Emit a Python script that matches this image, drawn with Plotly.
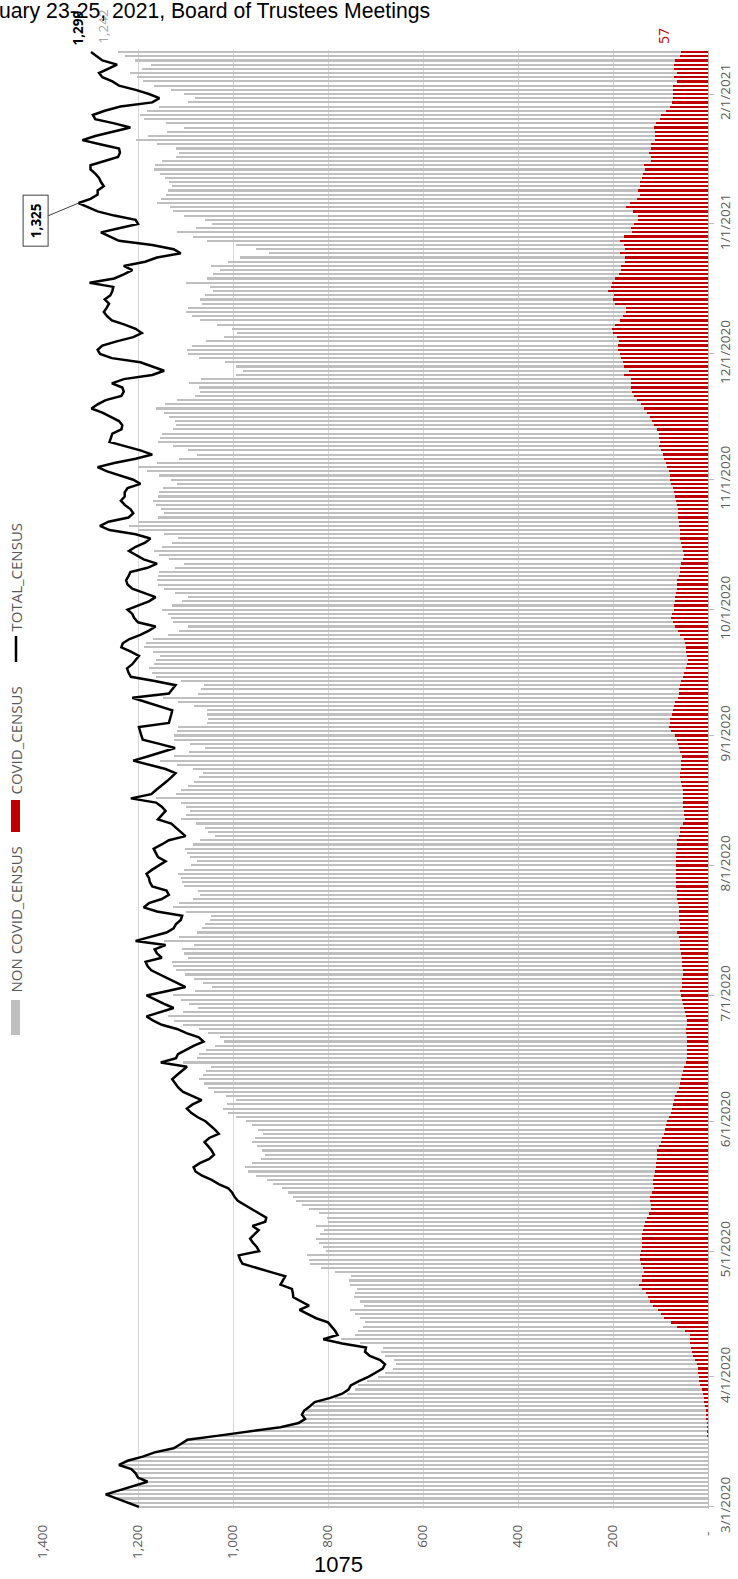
import plotly.graph_objects as go
import pandas as pd

START_DATE = "2020-03-01"

TOTAL_CENSUS = [
    1198, 1222, 1245, 1268, 1238, 1209, 1180, 1200, 1205, 1214,
    1240, 1222, 1190, 1165, 1125, 1110, 1096, 1030, 965, 900,
    862, 848, 855, 850, 838, 828, 795, 770, 757, 752,
    735, 715, 700, 685, 680, 690, 712, 722, 720, 770,
    810, 780, 785, 792, 800, 825, 843, 860, 840, 855,
    873, 874, 876, 900, 895, 890, 920, 950, 980, 985,
    988, 945, 950, 958, 964, 955, 946, 959, 932, 930,
    945, 960, 975, 990, 997, 1002, 1010, 1030, 1045, 1065,
    1079, 1083, 1070, 1050, 1040, 1045, 1052, 1060, 1050, 1030,
    1038, 1048, 1058, 1075, 1088, 1097, 1085, 1066, 1085, 1105,
    1115, 1122, 1128, 1118, 1108, 1097, 1152, 1120, 1116, 1100,
    1082, 1062, 1072, 1098, 1118, 1150, 1168, 1182, 1155, 1125,
    1145, 1165, 1182, 1140, 1100, 1118, 1137, 1155, 1172, 1180,
    1184, 1150, 1160, 1165, 1142, 1205, 1175, 1140, 1125, 1120,
    1110, 1107, 1160, 1188, 1177, 1150, 1135, 1140, 1170, 1175,
    1177, 1182, 1170, 1155, 1142, 1158, 1163, 1167, 1150, 1135,
    1100, 1110, 1118, 1130, 1158, 1150, 1142, 1150, 1162, 1215,
    1172, 1162, 1150, 1140, 1130, 1121, 1142, 1175, 1210, 1180,
    1150, 1122, 1155, 1190, 1193, 1196, 1198, 1135, 1132, 1130,
    1128, 1155, 1185, 1212, 1135, 1128, 1121, 1165, 1215, 1220,
    1223, 1212, 1205, 1198, 1215, 1235, 1232, 1218, 1195, 1177,
    1163, 1200, 1208, 1212, 1222, 1200, 1177, 1163, 1190, 1212,
    1222, 1225, 1220, 1216, 1180, 1160, 1188, 1205, 1219, 1205,
    1185, 1174, 1205, 1260, 1280, 1262, 1220, 1210, 1216, 1228,
    1236, 1228, 1228, 1222, 1195, 1210, 1237, 1265, 1285, 1250,
    1205, 1170, 1195, 1230, 1260, 1257, 1254, 1235, 1233, 1240,
    1258, 1275, 1298, 1285, 1268, 1235, 1230, 1233, 1255, 1230,
    1170, 1145, 1170, 1195, 1255, 1280, 1285, 1275, 1245, 1210,
    1192, 1205, 1228, 1255, 1265, 1272, 1266, 1261, 1270, 1258,
    1254, 1252, 1302, 1250, 1230, 1212, 1230, 1185, 1160, 1110,
    1125, 1170, 1240, 1260, 1278, 1240, 1200, 1205, 1250, 1285,
    1305, 1325, 1300, 1285, 1285, 1272, 1278, 1282, 1290, 1300,
    1300, 1270, 1242, 1238, 1240, 1280, 1317, 1290, 1250, 1216,
    1250, 1290, 1295, 1270, 1237, 1170, 1155, 1177, 1205, 1240,
    1254, 1275, 1282, 1262, 1244, 1275, 1288, 1299,
]

COVID_CENSUS = [
    0, 0, 0, 0, 0, 0, 0, 0, 0, 0,
    0, 0, 0, 0, 0, 0, 0, 1, 1, 2,
    2, 3, 4, 4, 6, 8, 9, 11, 13, 16,
    18, 20, 21, 22, 24, 28, 31, 34, 36, 38,
    38, 37, 48, 66, 78, 92, 100, 106, 116, 122,
    127, 130, 138, 146, 140, 138, 135, 136, 142, 144,
    143, 141, 139, 139, 138, 139, 137, 134, 132, 128,
    125, 121, 121, 122, 123, 118, 114, 115, 116, 113,
    111, 109, 109, 108, 108, 107, 103, 100, 97, 93,
    90, 88, 86, 82, 78, 76, 73, 72, 70, 66,
    62, 60, 57, 55, 52, 50, 47, 45, 44, 44,
    44, 44, 45, 46, 46, 45, 44, 46, 49, 51,
    53, 55, 56, 60, 55, 54, 54, 53, 53, 54,
    55, 55, 57, 58, 59, 60, 62, 65, 60, 60,
    61, 61, 62, 62, 63, 65, 66, 66, 67, 67,
    67, 67, 67, 67, 67, 67, 67, 66, 65, 65,
    62, 58, 58, 52, 48, 50, 51, 52, 53, 53,
    53, 53, 55, 57, 58, 58, 57, 57, 56, 55,
    58, 62, 64, 66, 69, 78, 83, 80, 79, 76,
    74, 72, 69, 64, 62, 61, 60, 56, 53, 50,
    47, 45, 42, 44, 46, 47, 48, 50, 58, 64,
    69, 74, 78, 75, 72, 71, 70, 69, 67, 66,
    65, 65, 62, 60, 58, 56, 53, 50, 52, 55,
    57, 58, 59, 60, 61, 62, 63, 64, 64, 65,
    67, 70, 72, 74, 77, 79, 81, 83, 86, 89,
    92, 95, 100, 103, 102, 103, 104, 108, 113, 118,
    123, 129, 135, 142, 150, 155, 160, 162, 162, 163,
    177, 167, 176, 179, 183, 186, 189, 189, 188, 191,
    200, 202, 195, 186, 179, 172, 172, 195, 200, 198,
    211, 204, 202, 195, 188, 184, 183, 175, 174, 186,
    174, 177, 186, 176, 160, 163, 156, 147, 147, 158,
    172, 165, 149, 144, 148, 144, 144, 139, 137, 133,
    135, 121, 121, 125, 121, 119, 112, 111, 111, 113,
    109, 102, 100, 89, 81, 76, 74, 74, 74, 74,
    65, 72, 65, 71, 71, 69, 60, 57,
]

NON_COVID_CENSUS = [
    1198, 1222, 1245, 1268, 1238, 1209, 1180, 1200, 1205, 1214,
    1240, 1222, 1190, 1165, 1125, 1110, 1096, 1029, 964, 898,
    860, 845, 851, 846, 832, 820, 786, 759, 744, 736,
    717, 695, 679, 663, 656, 662, 681, 688, 684, 732,
    772, 743, 737, 726, 722, 733, 743, 754, 724, 733,
    746, 744, 738, 754, 755, 752, 785, 814, 838, 841,
    845, 804, 811, 819, 826, 816, 809, 825, 800, 802,
    820, 839, 854, 868, 874, 884, 896, 915, 929, 952,
    968, 974, 961, 942, 932, 938, 949, 960, 953, 937,
    948, 960, 972, 993, 1010, 1021, 1012, 994, 1015, 1039,
    1053, 1062, 1071, 1063, 1056, 1047, 1105, 1075, 1072, 1056,
    1038, 1018, 1027, 1052, 1072, 1105, 1124, 1136, 1106, 1074,
    1092, 1110, 1126, 1080, 1045, 1064, 1083, 1102, 1119, 1126,
    1129, 1095, 1103, 1107, 1083, 1145, 1113, 1075, 1065, 1060,
    1049, 1046, 1098, 1126, 1114, 1085, 1069, 1074, 1103, 1108,
    1110, 1115, 1103, 1088, 1075, 1091, 1096, 1101, 1085, 1070,
    1038, 1052, 1060, 1078, 1110, 1100, 1091, 1098, 1109, 1162,
    1119, 1109, 1095, 1083, 1072, 1063, 1085, 1118, 1154, 1125,
    1092, 1060, 1091, 1124, 1124, 1118, 1115, 1055, 1053, 1054,
    1054, 1083, 1116, 1148, 1073, 1067, 1061, 1109, 1162, 1170,
    1176, 1167, 1163, 1154, 1169, 1188, 1184, 1168, 1137, 1113,
    1094, 1126, 1130, 1137, 1150, 1129, 1107, 1094, 1123, 1146,
    1157, 1160, 1158, 1156, 1122, 1104, 1135, 1155, 1167, 1150,
    1128, 1116, 1146, 1200, 1219, 1200, 1157, 1146, 1152, 1163,
    1169, 1158, 1156, 1148, 1118, 1131, 1156, 1182, 1199, 1161,
    1113, 1075, 1095, 1127, 1158, 1154, 1150, 1127, 1120, 1122,
    1135, 1146, 1163, 1143, 1118, 1080, 1070, 1071, 1093, 1067,
    993, 978, 994, 1016, 1072, 1094, 1096, 1086, 1057, 1019,
    992, 1003, 1033, 1069, 1086, 1100, 1094, 1066, 1070, 1060,
    1043, 1048, 1100, 1055, 1042, 1028, 1047, 1010, 986, 924,
    951, 993, 1054, 1084, 1118, 1077, 1044, 1058, 1103, 1127,
    1133, 1160, 1151, 1141, 1137, 1128, 1134, 1143, 1153, 1167,
    1165, 1149, 1121, 1113, 1119, 1161, 1205, 1179, 1139, 1103,
    1141, 1188, 1195, 1181, 1156, 1094, 1081, 1103, 1131, 1166,
    1189, 1203, 1217, 1191, 1173, 1206, 1228, 1242,
]

SERIES_NAMES = ["NON COVID_CENSUS", "COVID_CENSUS", "TOTAL_CENSUS"]

MONTH_TICKS = ["2020-03-01", "2020-04-01", "2020-05-01", "2020-06-01",
               "2020-07-01", "2020-08-01", "2020-09-01", "2020-10-01",
               "2020-11-01", "2020-12-01", "2021-01-01", "2021-02-01"]
MONTH_LABELS = ["3/1/2020", "4/1/2020", "5/1/2020", "6/1/2020",
                "7/1/2020", "8/1/2020", "9/1/2020", "10/1/2020",
                "11/1/2020", "12/1/2020", "1/1/2021", "2/1/2021"]

VALUE_TICKS = [0, 200, 400, 600, 800, 1000, 1200, 1400]
VALUE_LABELS = ["-\u00a0\u00a0", "200", "400", "600", "800", "1,000", "1,200", "1,400"]

TITLE_TEXT = "uary 23-25, 2021, Board of Trustees Meetings"
FOOT_TEXT = "1075"
CALLOUT_DATE = "2021-01-06"

# ---------------------------------------------------------------
dates = pd.date_range(START_DATE, periods=len(TOTAL_CENSUS), freq="D")
DAY_MS = 86400000

W, H = 738, 1579
L, R, T, B = 43, 30, 50, 70


def px(x):
    return (x - L) / (W - L - R)


def py(y):
    return (H - B - y) / (H - T - B)


GRAY = "#BFBFBF"
RED = "#C00000"
TXT = "#595959"
FONT = "Open Sans"

fig = go.Figure()
fig.add_trace(go.Bar(
    x=NON_COVID_CENSUS, y=dates, orientation="h", name=SERIES_NAMES[0],
    marker=dict(color=GRAY, line=dict(width=0)), width=0.5 * DAY_MS,
))
fig.add_trace(go.Bar(
    x=COVID_CENSUS, y=dates, orientation="h", name=SERIES_NAMES[1],
    marker=dict(color=RED, line=dict(width=0)), width=0.52 * DAY_MS,
))
fig.add_trace(go.Scatter(
    x=TOTAL_CENSUS, y=dates, mode="lines", name=SERIES_NAMES[2],
    line=dict(color="#000000", width=2.5),
))

annotations = []
# data labels at the last date
last = dates[-1]
annotations.append(dict(
    x=TOTAL_CENSUS[-1], y=last, xref="x", yref="y", text="<b>%s</b>" % f"{TOTAL_CENSUS[-1]:,}",
    showarrow=False, textangle=-90, xshift=-13, yshift=24.5,
    font=dict(family=FONT, size=13.5, color="#000000"),
))
annotations.append(dict(
    x=NON_COVID_CENSUS[-1], y=last, xref="x", yref="y", text=f"{NON_COVID_CENSUS[-1]:,}",
    showarrow=False, textangle=-90, xshift=-15, yshift=25.5,
    font=dict(family=FONT, size=13.5, color="#A6A6A6"),
))
annotations.append(dict(
    x=COVID_CENSUS[-1], y=last, xref="x", yref="y", text=f"{COVID_CENSUS[-1]:,}",
    showarrow=False, textangle=-90, xshift=-18, yshift=16,
    font=dict(family=FONT, size=14, color=RED),
))

# callout on the peak
ci = list(dates).index(pd.Timestamp(CALLOUT_DATE))
annotations.append(dict(
    x=TOTAL_CENSUS[ci], y=dates[ci], xref="x", yref="y",
    text="<b>%s</b>" % f"{TOTAL_CENSUS[ci]:,}", textangle=-90,
    showarrow=True, arrowhead=0, arrowwidth=1, arrowcolor="#404040",
    ax=-43, ay=18, bordercolor="#404040", borderwidth=1, borderpad=0,
    bgcolor="#FFFFFF", width=50, height=24,
    font=dict(family=FONT, size=13.5, color="#000000"),
))

# legend (rotated)
shapes = [
    dict(type="rect", xref="paper", yref="paper", x0=px(11), x1=px(20),
         y0=py(1035), y1=py(1000), fillcolor=GRAY, line=dict(width=0)),
    dict(type="rect", xref="paper", yref="paper", x0=px(11), x1=px(20),
         y0=py(832), y1=py(800), fillcolor=RED, line=dict(width=0)),
    dict(type="line", xref="paper", yref="paper", x0=px(16), x1=px(16),
         y0=py(662), y1=py(636), line=dict(color="#000000", width=2.5)),
]
for name, yc in zip(SERIES_NAMES, [920, 741, 577]):
    annotations.append(dict(
        x=px(15.5), y=py(yc), xref="paper", yref="paper", text=name,
        showarrow=False, textangle=-90, xanchor="center", yanchor="middle",
        font=dict(family=FONT, size=15, color=TXT),
    ))

# title (cropped in the original) and footer
annotations.append(dict(
    x=px(-3), y=py(11), xref="paper", yref="paper", text=TITLE_TEXT,
    showarrow=False, xanchor="left", yanchor="middle",
    font=dict(family="Liberation Sans, Arial", size=21.2, color="#000000"),
))
annotations.append(dict(
    x=px(338), y=py(1565), xref="paper", yref="paper", text=FOOT_TEXT,
    showarrow=False, xanchor="center", yanchor="middle",
    font=dict(family="Liberation Sans, Arial", size=22, color="#000000"),
))

fig.update_layout(
    width=W, height=H,
    margin=dict(l=L, r=R, t=T, b=B, pad=0, autoexpand=False),
    paper_bgcolor="#FFFFFF", plot_bgcolor="#FFFFFF",
    barmode="overlay", bargap=0, showlegend=False,
    annotations=annotations, shapes=shapes,
    xaxis=dict(
        range=[1400, 0], tickmode="array", tickvals=VALUE_TICKS, ticktext=VALUE_LABELS,
        tickangle=-90, showgrid=True, gridcolor="#D9D9D9", gridwidth=1,
        zeroline=False, showline=False, ticks="", ticklabelstandoff=12,
        automargin=False,
        tickfont=dict(family=FONT, size=13.5, color=TXT),
    ),
    yaxis=dict(
        type="date", side="right",
        range=[dates[0] - pd.Timedelta(hours=12), dates[-1] + pd.Timedelta(hours=12)],
        tickmode="array", tickvals=MONTH_TICKS, ticktext=MONTH_LABELS,
        tickangle=-90, ticks="outside", ticklen=5, tickcolor=GRAY,
        showline=True, linecolor=GRAY, linewidth=1, showgrid=False, zeroline=False,
        automargin=False,
        tickfont=dict(family=FONT, size=13.5, color=TXT),
    ),
)

# the page's default 8px body margin would shift the figure; remove it
fig.write_html(
    "out.html",
    config={"displayModeBar": False},
    post_script="document.body.style.margin='0px';",
)
